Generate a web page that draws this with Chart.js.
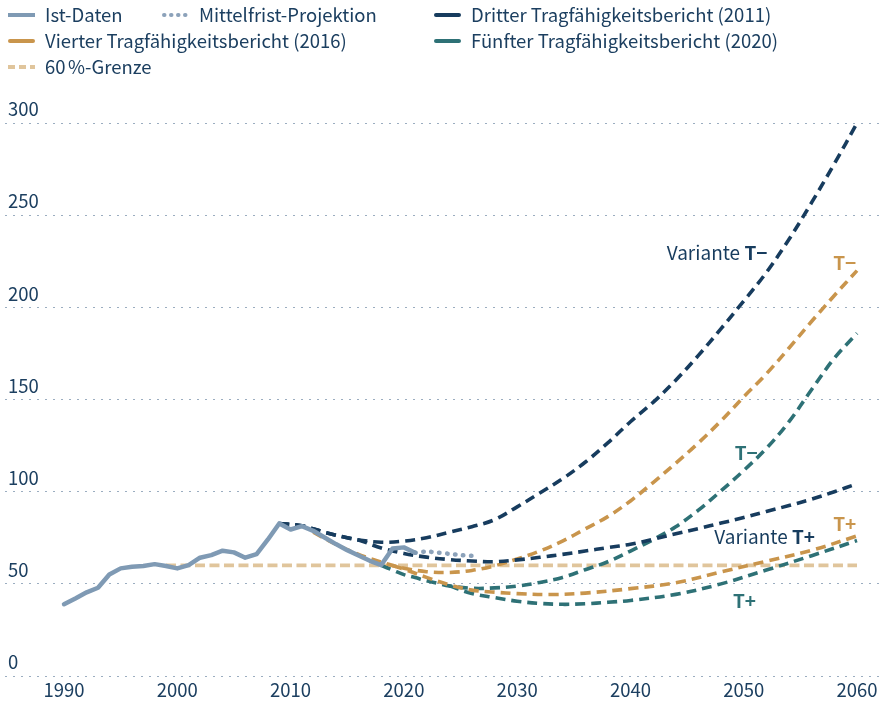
<!DOCTYPE html>
<html lang="de">
<head>
<meta charset="utf-8">
<title>Schuldenstandsquote – Tragfähigkeitsberichte</title>
<script src="https://cdn.jsdelivr.net/npm/chart.js@4.4.1/dist/chart.umd.min.js"></script>
<style>
  html, body { margin: 0; padding: 0; background: #fff; }
  #wrap { width: 885px; height: 702px; }
</style>
</head>
<body>
<div id="wrap"><canvas id="debtChart" width="885" height="702"></canvas></div>
<script>
// ---------- data ----------
const istYears = [1990, 1991, 1992, 1993, 1994, 1995, 1996, 1997, 1998, 1999, 2000, 2001, 2002, 2003, 2004, 2005,
  2006, 2007, 2008, 2009, 2010, 2011, 2012, 2013, 2014, 2015, 2016, 2017, 2018, 2019, 2020, 2021];
const istValues = [39.0, 42.1, 45.4, 47.9, 55.1, 58.4, 59.3, 59.7, 60.7, 59.7, 58.4, 60.2, 64.2, 65.6, 68.0, 67.1,
  64.2, 66.2, 74.1, 82.8, 79.5, 81.3, 78.8, 75.2, 71.6, 68.3, 65.4, 62.5, 60.2, 69.2, 69.8, 66.9];

const mfYears = [2021, 2022, 2023, 2024, 2025, 2026];
const mfValues = [66.9, 67.5, 67.0, 66.3, 65.6, 65.2];

const dritterMinusYears = [2009, 2011, 2013, 2015, 2016, 2018, 2020, 2022, 2024, 2026, 2028, 2030, 2032, 2034,
  2036, 2038, 2040, 2042, 2044, 2046, 2048, 2050, 2052, 2054, 2056, 2058, 2060];
const dritterMinus = [82.8, 81.5, 78, 75, 73.8, 72.6, 73.2, 75, 78, 81, 84.8, 91.8, 99.3, 107,
  116, 126.5, 138, 148.5, 160.5, 174, 188.5, 203.5, 219, 237, 257, 278, 300];

const dritterPlusYears = [2009, 2011, 2013, 2015, 2016, 2018, 2020, 2022, 2024, 2026, 2028, 2030, 2032, 2034,
  2036, 2038, 2040, 2042, 2044, 2046, 2048, 2050, 2052, 2054, 2056, 2058, 2060];
const dritterPlus = [82.8, 81.5, 78, 75, 73.8, 69.5, 66.5, 64.5, 63.2, 62.4, 62, 63, 64.4, 66,
  67.8, 69.7, 71.5, 74.2, 77.2, 80, 83, 86, 89.3, 92.5, 96, 100, 104.3];

const vierterMinusYears = [2012, 2014, 2016, 2017, 2018, 2019, 2020, 2022, 2024, 2026, 2028, 2030, 2032, 2034,
  2036, 2038, 2040, 2042, 2044, 2046, 2048, 2050, 2052, 2054, 2056, 2058, 2060];
const vierterMinus = [78, 71.5, 66, 63.8, 61.8, 60, 58.5, 56.6, 56.2, 57.3, 59.8, 63.5, 67.8, 73.2,
  79.8, 86.5, 95, 105, 115.5, 126.5, 138.5, 151.5, 164, 178, 192.5, 206.5, 220];

const vierterPlusYears = [2019, 2020, 2022, 2024, 2026, 2028, 2030, 2033, 2036, 2040, 2044, 2048, 2052, 2056, 2060];
const vierterPlus = [60, 58, 53.5, 49.5, 46.6, 45.5, 44.7, 44.2, 45, 47.4, 50.6, 56.5, 62.3, 68.2, 76];

const fuenfterMinusYears = [2018, 2019, 2020, 2021, 2022, 2023, 2024, 2026, 2028, 2030, 2032, 2034, 2036, 2038,
  2040, 2042, 2044, 2046, 2048, 2050, 2052, 2054, 2056, 2058, 2060];
const fuenfterMinus = [60, 57.5, 55, 53.4, 51.7, 50.3, 48.9, 47.6, 47.8, 48.8, 50.8, 53.5, 57.7, 62,
  67.8, 74, 81, 90, 100.5, 111.5, 123.5, 138, 155.5, 172.5, 186];

const fuenfterPlusYears = [2024, 2026, 2028, 2030, 2032, 2034, 2036, 2038, 2040, 2044, 2048, 2052, 2056, 2060];
const fuenfterPlus = [48.9, 44.8, 42.6, 40.6, 39.4, 38.9, 39.2, 40, 41, 44.3, 50, 57.5, 65.3, 73.5];

const limitYears = [1999, 2060];
const limitValues = [60, 60];

const xTickYears = [1990, 2000, 2010, 2020, 2030, 2040, 2050, 2060];
const yTickValues = [0, 50, 100, 150, 200, 250, 300];

const legendLabels = ['Ist-Daten', 'Mittelfrist-Projektion', 'Dritter Tragfähigkeitsbericht (2011)',
  'Vierter Tragfähigkeitsbericht (2016)', 'Fünfter Tragfähigkeitsbericht (2020)', '60%-Grenze'];

// ---------- styling ----------
const FONT = '"Noto Sans CJK SC", Lato, "Noto Sans", sans-serif';
const TEXT = '#1c3f60';
const C_IST = '#7f9ab4';
const C_MF = '#8ca2ba';
const C_D11 = '#173c5e';
const C_V16 = '#c9954c';
const C_F20 = '#2e7176';
const C_LIM = '#e0c59c';
const GRID = '#9badc0';

Chart.defaults.font.family = FONT;
Chart.defaults.color = TEXT;

function pairs(xs, ys) {
  return xs.map((x, i) => ({ x: x, y: ys[i] }));
}

function projection(label, xs, ys, color) {
  return {
    label: label,
    data: pairs(xs, ys),
    borderColor: color,
    borderWidth: 3.6,
    borderDash: [10, 6],
    tension: 0.35,
    pointRadius: 0,
    fill: false
  };
}

const datasets = [
  { label: 'Ist-Daten', data: pairs(istYears, istValues), borderColor: C_IST, borderWidth: 4.5,
    borderJoinStyle: 'round', borderCapStyle: 'round', pointRadius: 0, tension: 0 },
  { label: 'Mittelfrist-Projektion', data: pairs(mfYears, mfValues), borderColor: C_MF, borderWidth: 4.5,
    borderDash: [0.5, 7.5], borderCapStyle: 'round', pointRadius: 0, tension: 0.3 },
  projection('Dritter T−', dritterMinusYears, dritterMinus, C_D11),
  projection('Dritter T+', dritterPlusYears, dritterPlus, C_D11),
  projection('Vierter T−', vierterMinusYears, vierterMinus, C_V16),
  projection('Vierter T+', vierterPlusYears, vierterPlus, C_V16),
  projection('Fünfter T−', fuenfterMinusYears, fuenfterMinus, C_F20),
  projection('Fünfter T+', fuenfterPlusYears, fuenfterPlus, C_F20),
  { label: '60%-Grenze', data: pairs(limitYears, limitValues), borderColor: C_LIM, borderWidth: 3.8,
    borderDash: [10, 4.5], pointRadius: 0 }
];

// legend grid: [label index, colour, dash, cap, x, y]
const legendSlots = [
  [0, C_IST, [], 'butt', 8, 15],
  [1, C_MF, [0.5, 6.5], 'round', 162, 15],
  [2, C_D11, [], 'round', 434, 15],
  [3, C_V16, [], 'round', 8, 41],
  [4, C_F20, [], 'round', 434, 41],
  [5, C_LIM, [7, 4], 'butt', 8, 67]
];

// curve labels: [plain text, bold text, colour, year, value]
const curveNotes = [
  ['Variante ', 'T−', C_D11, 2043.2, 229.5],
  ['', 'T−', C_V16, 2057.9, 224],
  ['', 'T−', C_F20, 2049.2, 121],
  ['Variante ', 'T+', C_D11, 2047.4, 75.4],
  ['', 'T+', C_V16, 2057.9, 82.4],
  ['', 'T+', C_F20, 2049.05, 40.7]
];

const legendGrid = {
  id: 'legendGrid',
  afterDraw(chart) {
    const ctx = chart.ctx;
    ctx.save();
    ctx.font = `18.5px ${FONT}`;
    ctx.textBaseline = 'middle';
    legendSlots.forEach(([idx, color, dash, cap, x, y]) => {
      const w = idx === 1 ? 28 : 27;
      ctx.strokeStyle = color;
      ctx.lineWidth = 4;
      ctx.lineCap = cap;
      ctx.setLineDash(dash);
      ctx.beginPath();
      ctx.moveTo(x + (cap === 'round' ? 2 : 0), y);
      ctx.lineTo(x + w - (cap === 'round' ? 2 : 0), y);
      ctx.stroke();
      ctx.setLineDash([]);
      ctx.fillStyle = TEXT;
      const label = legendLabels[idx];
      if (idx === 5) {
        // narrow gap between number and percent sign
        ctx.fillText('60', x + 37, y);
        const w60 = ctx.measureText('60').width + 2.5;
        ctx.fillText(label.slice(2), x + 37 + w60, y);
      } else {
        ctx.fillText(label, x + 37, y);
      }
    });
    ctx.restore();
  }
};

const curveLabels = {
  id: 'curveLabels',
  afterDatasetsDraw(chart) {
    const { ctx, scales } = chart;
    ctx.save();
    ctx.textBaseline = 'middle';
    curveNotes.forEach(([plain, bold, color, year, value]) => {
      let x = scales.x.getPixelForValue(year);
      const y = scales.y.getPixelForValue(value);
      ctx.fillStyle = color;
      if (plain) {
        ctx.font = `19px ${FONT}`;
        ctx.fillText(plain, x, y);
        x += ctx.measureText(plain).width;
      }
      ctx.font = `bold 19px ${FONT}`;
      ctx.fillText(bold, x, y);
    });
    ctx.restore();
  }
};

new Chart(document.getElementById('debtChart'), {
  type: 'line',
  data: { datasets: datasets },
  options: {
    responsive: false,
    animation: false,
    layout: { padding: { top: 114, right: 5, left: 0, bottom: 0 } },
    plugins: { legend: { display: false }, tooltip: { enabled: false } },
    scales: {
      x: {
        type: 'linear',
        min: 1984.79,
        max: 2062.03,
        afterBuildTicks: (scale) => { scale.ticks = xTickYears.map(v => ({ value: v })); },
        afterFit: (scale) => { scale.height = 26; },
        grid: { display: false, drawTicks: false },
        border: { display: false },
        ticks: { padding: 3, maxRotation: 0, autoSkip: false, font: { size: 18.5 }, color: TEXT,
          callback: (v) => String(v) }
      },
      y: {
        type: 'linear',
        min: 0,
        max: 305,
        afterBuildTicks: (scale) => { scale.ticks = yTickValues.map(v => ({ value: v })); },
        afterFit: (scale) => { scale.width = 5; },
        grid: { color: GRID, lineWidth: 1, drawTicks: false },
        border: { display: false, dash: [2, 6] },
        ticks: { mirror: true, padding: 3, labelOffset: -14, font: { size: 18.5 }, color: TEXT }
      }
    }
  },
  plugins: [legendGrid, curveLabels]
});
</script>
</body>
</html>
